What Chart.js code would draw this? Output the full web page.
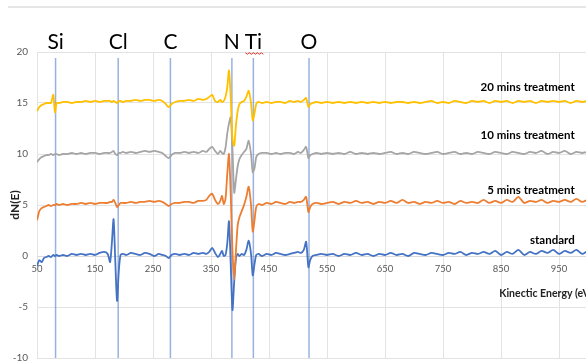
<!DOCTYPE html>
<html>
<head>
<meta charset="utf-8">
<script src="https://cdn.jsdelivr.net/npm/chart.js@4.4.1/dist/chart.umd.min.js"></script>
<style>
  html, body { margin: 0; padding: 0; background: #fff; overflow: hidden; }
  #wrap { width: 640px; height: 364px; }
</style>
</head>
<body>
<div id="wrap"><canvas id="aesChart" width="640" height="364"></canvas></div>
<script>
// Energie cinetique (eV)
const energies = [
  50, 54, 58, 62, 66, 70, 74, 78, 81, 84, 88, 95,
  102, 110, 118, 126, 134, 142, 150, 158, 166,
  172, 176, 179, 182, 185, 188, 191, 194, 198,
  204, 212, 220, 228, 236, 244, 252, 260, 266,
  272, 277, 282, 288, 296,
  304, 312, 320, 328, 336, 342, 347, 352, 357, 362, 366,
  369, 372, 375, 378, 381, 384, 387, 390, 393, 396, 399,
  403, 407, 411, 415, 419, 422, 425, 428, 432, 438,
  446, 454, 462, 470, 478, 486, 493, 500,
  505, 510, 514, 518, 521, 525, 532, 540,
  550, 560, 570, 580, 590, 600, 610, 620, 630, 640,
  650, 660, 670, 680, 690, 700, 710, 720, 730, 740,
  750, 760, 770, 780, 790, 800, 810, 820, 830, 840,
  850, 860, 870, 880, 890, 900, 910, 920, 930, 940,
  950, 960, 970, 980, 990, 1000, 1010, 1020, 1030, 1040, 1050
];

const standard = [
  -1.0, -0.4, -0.6, -0.2, -0.1, 0.0, -0.1, 0.1, 0.0, 0.1, 0.0, 0.1,
  0.0, 0.2, 0.1, 0.2, 0.1, 0.2, 0.1, 0.3, 0.4,
  0.2, -0.6, 1.2, 3.6, -0.5, -4.4, -1.5, 0.1, 0.2,
  0.1, 0.3, 0.2, 0.1, 0.3, 0.2, 0.0, 0.2, 0.1,
  0.0, -0.2, 0.1, 0.2, 0.1,
  0.2, 0.1, 0.3, 0.2, 0.3, 0.2, 0.4, 0.8, 0.3, -0.1, 0.2,
  0.5, 0.0, 0.1, 1.2, 3.4, -0.8, -5.3, -2.5, -0.2, 0.2, 0.0,
  0.2, 0.1, 0.6, 1.5, 0.2, -1.9, -0.8, 0.1, 0.2, 0.0,
  0.2, 0.1, 0.3, 0.2, 0.1, 0.2, 0.3, 0.4,
  0.3, 0.6, 1.4, -1.1, -0.4, 0.0, 0.1, 0.2,
  0.1, 0.2, 0.0, 0.2, 0.1, 0.3, 0.1, 0.2, 0.0, 0.2,
  0.1, 0.3, 0.1, 0.2, 0.0, 0.3, 0.2, 0.1, 0.3, 0.2,
  0.1, 0.3, 0.2, 0.4, 0.1, 0.3, 0.2, 0.4, 0.2, 0.5,
  0.1, 0.4, 0.2, 0.6, 0.1, 0.4, 0.2, 0.5, 0.3, 0.6,
  0.2, 0.5, 0.3, 0.6, 0.2, 0.5, 0.3, 0.6, 0.4, 0.5, 0.3
];

const mins5 = [
  3.5, 4.4, 4.7, 4.8, 4.9, 5.0, 4.9, 5.0, 5.0, 5.1, 5.0, 5.1,
  5.0, 5.1, 5.1, 5.2, 5.1, 5.2, 5.1, 5.2, 5.2,
  5.2, 5.3, 5.3, 5.5, 5.2, 4.8, 5.0, 5.2, 5.2,
  5.2, 5.3, 5.2, 5.3, 5.3, 5.4, 5.3, 5.4, 5.3,
  5.1, 4.9, 5.1, 5.2, 5.2,
  5.3, 5.3, 5.2, 5.4, 5.4, 5.5, 5.9, 6.1, 5.5, 5.1, 5.4,
  5.9, 5.1, 5.6, 8.0, 10.0, 6.0, 0.5, -2.3, 0.5, 3.0, 3.8,
  4.4, 5.0, 5.8, 6.8, 5.0, 2.4, 3.5, 4.8, 5.1, 5.0,
  5.2, 5.1, 5.3, 5.2, 5.1, 5.3, 5.2, 5.3,
  5.3, 5.5, 5.8, 4.3, 4.8, 5.1, 5.2, 5.1,
  5.2, 5.3, 5.1, 5.3, 5.2, 5.4, 5.2, 5.3, 5.1, 5.3,
  5.2, 5.4, 5.2, 5.5, 5.2, 5.3, 5.1, 5.3, 5.2, 5.4,
  5.2, 5.3, 5.1, 5.4, 5.2, 5.3, 5.2, 5.5, 5.2, 5.4,
  5.2, 5.5, 5.3, 5.8, 5.2, 5.4, 5.3, 5.5, 5.2, 5.4,
  5.3, 5.5, 5.3, 5.6, 5.3, 5.5, 5.2, 5.4, 5.3, 5.5, 5.3
];

const mins10 = [
  9.2, 9.5, 9.7, 9.8, 9.9, 9.9, 10.0, 9.9, 10.0, 10.0, 9.9, 10.0,
  10.0, 10.1, 10.0, 10.1, 10.0, 10.1, 10.1, 10.0, 10.1,
  10.1, 10.1, 10.2, 10.3, 10.0, 9.9, 10.1, 10.1, 10.2,
  10.1, 10.2, 10.1, 10.2, 10.3, 10.2, 10.3, 10.2, 10.1,
  9.8, 9.6, 9.9, 10.1, 10.1,
  10.2, 10.1, 10.2, 10.1, 10.3, 10.2, 10.5, 10.7, 10.3, 10.0, 10.3,
  10.1, 10.0, 10.6, 12.0, 13.0, 13.6, 10.5, 6.2, 7.5, 8.8, 9.5,
  9.9, 10.2, 10.5, 11.3, 10.0, 8.2, 8.6, 9.7, 10.0, 10.1,
  10.1, 10.0, 10.1, 10.0, 10.1, 10.1, 10.0, 10.2,
  10.1, 10.4, 10.7, 9.6, 9.9, 10.0, 10.1, 10.0,
  10.1, 10.0, 10.1, 10.0, 10.2, 10.0, 10.1, 10.0, 10.1, 10.0,
  10.1, 10.2, 10.0, 10.1, 10.0, 10.2, 10.1, 10.0, 10.1, 10.2,
  10.0, 10.1, 10.2, 10.0, 10.1, 10.0, 10.2, 10.1, 10.0, 10.2,
  10.1, 10.0, 10.2, 10.1, 10.0, 10.2, 10.1, 10.3, 10.0, 10.2,
  10.1, 10.3, 10.0, 10.2, 10.1, 10.2, 10.0, 10.2, 10.1, 10.2, 10.1
];

const mins20 = [
  14.2, 14.6, 14.8, 14.9, 15.0, 15.0, 15.0, 15.8, 14.1, 15.0, 15.0, 15.1,
  15.1, 15.0, 15.1, 15.1, 15.2, 15.1, 15.2, 15.1, 15.2,
  15.2, 15.2, 15.1, 15.2, 15.1, 15.0, 15.2, 15.2, 15.1,
  15.2, 15.2, 15.3, 15.2, 15.3, 15.3, 15.2, 15.3, 15.2,
  14.9, 14.6, 14.9, 15.1, 15.2,
  15.2, 15.3, 15.2, 15.4, 15.3, 15.4, 15.6, 15.8, 15.2, 15.1, 15.3,
  15.1, 15.2, 15.6, 16.5, 18.2, 15.5, 11.5, 10.8, 12.8, 14.2, 14.9,
  15.1, 15.2, 15.6, 16.2, 15.0, 13.3, 14.0, 14.9, 15.1, 15.0,
  15.1, 15.0, 15.1, 15.1, 15.0, 15.2, 15.1, 15.2,
  15.1, 15.3, 15.5, 14.6, 14.9, 15.0, 15.1, 15.0,
  15.1, 15.0, 15.1, 15.0, 15.1, 15.0, 15.1, 15.0, 15.1, 15.0,
  15.1, 15.0, 15.1, 15.1, 15.0, 15.1, 15.0, 15.1, 15.2, 15.0,
  15.1, 15.0, 15.2, 15.1, 15.0, 15.2, 15.1, 15.2, 15.0, 15.2,
  15.1, 15.2, 15.0, 15.2, 15.1, 15.2, 15.0, 15.2, 15.1, 15.2,
  15.1, 15.2, 15.0, 15.2, 15.1, 15.2, 15.1, 15.2, 15.0, 15.2, 15.1
];

const seriesNames = ['standard', '5 mins treatment', '10 mins treatment', '20 mins treatment'];
const seriesData = [standard, mins5, mins10, mins20];
const seriesColors = ['#4472c4', '#ed7d31', '#a5a5a5', '#ffc000'];

// pics Auger
const elements = ['Si', 'Cl', 'C', 'N', 'Ti', 'O'];
const elementEnergies = [82, 190, 280, 386, 423, 519];

const xTicks = [50, 150, 250, 350, 450, 550, 650, 750, 850, 950, 1050];

const annotations = {
    id: 'annotations',
    beforeDraw(chart) {
        const ctx = chart.ctx;
        ctx.save();
        ctx.strokeStyle = '#e6e6e6';
        ctx.lineWidth = 2;
        ctx.beginPath();
        ctx.moveTo(8, 7);
        ctx.lineTo(chart.width, 7);
        ctx.stroke();
        ctx.restore();
    },
    beforeDatasetsDraw(chart) {
        const {ctx, chartArea, scales: {x, y}} = chart;
        ctx.save();
        ctx.strokeStyle = 'rgba(68,114,196,0.55)';
        ctx.lineWidth = 1.5;
        elementEnergies.forEach(e => {
            const px = x.getPixelForValue(e);
            ctx.beginPath();
            ctx.moveTo(px, y.getPixelForValue(19.4));
            ctx.lineTo(px, chartArea.bottom);
            ctx.stroke();
        });
        ctx.restore();
    },
    afterDraw(chart) {
        const {ctx, chartArea, scales: {x, y}} = chart;
        ctx.save();
        ctx.fillStyle = '#000';
        ctx.font = '21px Lato';
        ctx.textAlign = 'center';
        ctx.textBaseline = 'alphabetic';
        elements.forEach((el, i) => {
            ctx.fillText(el, x.getPixelForValue(elementEnergies[i]), chartArea.top - 3);
        });

        // soulignement rouge sous Ti
        const tx = x.getPixelForValue(elementEnergies[elements.indexOf('Ti')]);
        ctx.strokeStyle = '#e0302a';
        ctx.lineWidth = 1;
        ctx.beginPath();
        for (let k = 0; k <= 9; k++) {
            const px = tx - 8 + k * 2;
            const py = chartArea.top + 1 + (k % 2 ? 1.2 : -0.2);
            if (k === 0) ctx.moveTo(px, py); else ctx.lineTo(px, py);
        }
        ctx.stroke();

        // noms des series
        const labelLevels = [1.5, 6.4, 11.8, 16.5];
        ctx.font = 'bold 11.5px Lato';
        ctx.textAlign = 'right';
        ctx.textBaseline = 'middle';
        seriesNames.forEach((name, i) => {
            ctx.fillText(name, x.getPixelForValue(977), y.getPixelForValue(labelLevels[i]));
        });

        ctx.font = 'bold 10.5px Lato';
        ctx.textAlign = 'left';
        ctx.fillStyle = '#222';
        ctx.fillText('Kinectic Energy (eV)', x.getPixelForValue(847), y.getPixelForValue(-3.7));
        ctx.restore();
    }
};

new Chart(document.getElementById('aesChart'), {
    type: 'line',
    data: {
        datasets: seriesNames.map((name, i) => ({
            label: name,
            data: energies.map((e, j) => ({ x: e, y: seriesData[i][j] })),
            borderColor: seriesColors[i],
            borderWidth: 1.8,
            pointRadius: 0,
            tension: 0.25,
            fill: false,
            order: 4 - i
        }))
    },
    options: {
        responsive: false,
        animation: false,
        layout: { padding: { left: 0, top: 52, right: 23, bottom: 6 } },
        plugins: {
            legend: { display: false },
            tooltip: { enabled: false }
        },
        scales: {
            x: {
                type: 'linear',
                position: { y: 0 },
                min: 50,
                max: 1050,
                afterBuildTicks: (scale) => { scale.ticks = xTicks.map(v => ({ value: v })); },
                afterFit: (scale) => { scale.height = 0; },
                grid: { color: '#e3e3e3', drawTicks: false },
                border: { display: true, color: '#d9d9d9' },
                ticks: {
                    padding: 7,
                    color: '#595959',
                    font: { family: 'Lato', size: 9.5 },
                    maxRotation: 0
                }
            },
            y: {
                min: -10,
                max: 20,
                afterFit: (scale) => {
                    scale.width = 37;
                    scale.paddingTop = 0;
                    scale.paddingBottom = 0;
                },
                grid: { color: '#e3e3e3', drawTicks: false },
                border: { display: false },
                ticks: {
                    stepSize: 5,
                    padding: 9,
                    color: '#595959',
                    font: { family: 'Lato', size: 10 }
                },
                title: {
                    display: true,
                    text: 'dN(E)',
                    color: '#222',
                    font: { family: 'Lato', size: 12, weight: 'bold' },
                    padding: { top: 8, bottom: 0 }
                }
            }
        }
    },
    plugins: [annotations]
});
</script>
</body>
</html>
